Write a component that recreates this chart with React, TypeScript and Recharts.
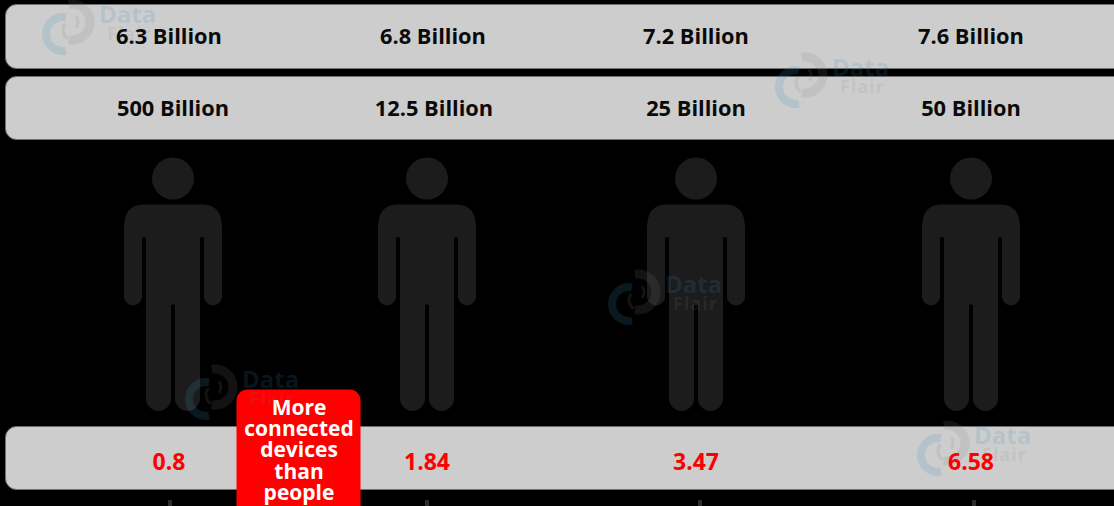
import React from 'react';
import { ComposedChart, ReferenceArea, Scatter, XAxis, YAxis } from 'recharts';

const WIDTH = 1114;
const HEIGHT = 506;

// values per column
const peopleBillions = [6.3, 6.8, 7.2, 7.6];
const deviceBillions = [500, 12.5, 25, 50];
const devicesPerPerson = [0.8, 1.84, 3.47, 6.58];
const calloutLines = ['More', 'connected', 'devices', 'than', 'people'];

// layout, in plot units (1 unit = 1px)
const peopleX = [169, 433, 696, 971];
const deviceX = [173, 434, 696, 971];
const ratioX = [169, 427, 696, 971];
const figureX = [173, 427, 696, 971];
const tickX = [170, 427, 700, 974];
const marksBehind = [
  { x: 43, y: 0 },
  { x: 776, y: 53 },
  { x: 609, y: 270 },
  { x: 918, y: 421 },
];
const marksOnTop = [{ x: 186, y: 365 }];

const FONT = '"Open Sans", sans-serif';
const BAND = '#cdcdcd';
const RED = '#fe0000';

const row = (values: number[], xs: number[], y: number, suffix = '') =>
  values.map((v, i) => ({ x: xs[i], y, label: `${v}${suffix}` }));

const peopleRow = row(peopleBillions, peopleX, 36, ' Billion');
const deviceRow = row(deviceBillions, deviceX, 108, ' Billion');
const ratioRow = row(devicesPerPerson, ratioX, 462);
const figures = figureX.map((x) => ({ x, y: 178.5 }));
const calloutAnchor = [{ x: 299, y: 407.5 }];

const RowLabel = (color: string, size: number) => (props: any) => (
  <text
    x={props.cx}
    y={props.cy}
    dy="0.36em"
    textAnchor="middle"
    fontFamily={FONT}
    fontWeight={700}
    fontSize={size}
    fill={color}
  >
    {props.payload.label}
  </text>
);

// standing figure, (cx, cy) is the centre of the head
const Figure = ({ cx, cy }: any) => {
  const body = [
    `M${cx - 30} ${cy + 26}`,
    `H${cx + 30}`,
    `Q${cx + 49} ${cy + 26} ${cx + 49} ${cy + 50}`,
    `V${cy + 118}`,
    `A9 9 0 0 1 ${cx + 31} ${cy + 118}`,
    `V${cy + 59}`,
    `H${cx + 27}`,
    `V${cy + 220}`,
    `A12 12 0 0 1 ${cx + 2} ${cy + 220}`,
    `V${cy + 126}`,
    `H${cx - 2}`,
    `V${cy + 220}`,
    `A12 12 0 0 1 ${cx - 27} ${cy + 220}`,
    `V${cy + 59}`,
    `H${cx - 31}`,
    `V${cy + 118}`,
    `A9 9 0 0 1 ${cx - 49} ${cy + 118}`,
    `V${cy + 50}`,
    `Q${cx - 49} ${cy + 26} ${cx - 30} ${cy + 26}`,
    'Z',
  ].join(' ');
  return (
    <g fill="#1c1c1c">
      <circle cx={cx} cy={cy} r={21} />
      <path d={body} />
    </g>
  );
};

const Callout = ({ cx, cy }: any) => (
  <text textAnchor="middle" fontFamily={FONT} fontWeight={700} fontSize={21} fill="#ffffff">
    {calloutLines.map((line, i) => (
      <tspan key={line} x={cx} y={cy + i * 21.2} dy="0.36em">
        {line}
      </tspan>
    ))}
  </text>
);

const arc = (cx: number, cy: number, r: number, from: number, to: number) => {
  const rad = Math.PI / 180;
  const sweep = to > from ? 1 : 0;
  const large = Math.abs(to - from) > 180 ? 1 : 0;
  return `M${cx + r * Math.cos(from * rad)} ${cy + r * Math.sin(from * rad)} A${r} ${r} 0 ${large} ${sweep} ${cx + r * Math.cos(to * rad)} ${cy + r * Math.sin(to * rad)}`;
};

// faint logo stamped across the graphic
const Stamp = ({ cx, cy }: any) => {
  const blue = 'rgba(60,140,190,0.17)';
  const grey = 'rgba(125,125,125,0.15)';
  return (
    <g fill="none">
      <path d={arc(cx + 20, cy + 34, 17, -80, -280)} stroke={blue} strokeWidth={8} />
      <path d={arc(cx + 29, cy + 22, 18, -100, 100)} stroke={grey} strokeWidth={9} />
      <path d={arc(cx + 30, cy + 30, 10, 120, 220)} stroke={grey} strokeWidth={3} />
      <path d={arc(cx + 26, cy + 22, 9, -40, 40)} stroke={grey} strokeWidth={3} />
      <text x={cx + 56} y={cy + 23} fontFamily={FONT} fontWeight={700} fontSize={24} fill={blue}>
        Data
      </text>
      <text x={cx + 64} y={cy + 40} fontFamily={FONT} fontWeight={700} fontSize={18} letterSpacing={1} fill={grey}>
        Flair
      </text>
    </g>
  );
};

const bandProps = {
  x1: 5.5,
  x2: 1130,
  fill: BAND,
  fillOpacity: 1,
  stroke: '#6f6f6f',
  strokeWidth: 1,
  radius: 11,
  ifOverflow: 'visible' as const,
};

export default function App() {
  return (
    <div style={{ position: 'absolute', left: 0, top: 0, width: WIDTH, height: HEIGHT, background: '#000', overflow: 'hidden' }}>
      <ComposedChart width={WIDTH} height={HEIGHT} margin={{ top: 0, right: 0, bottom: 0, left: 0 }}>
        <XAxis
          type="number"
          dataKey="x"
          domain={[0, WIDTH]}
          ticks={tickX}
          height={6}
          axisLine={false}
          tickSize={6}
          tickLine={{ stroke: '#2e2e2e', strokeWidth: 4 }}
          tickFormatter={() => ''}
        />
        <YAxis type="number" dataKey="y" domain={[0, 500]} reversed hide />

        <ReferenceArea {...bandProps} y1={4.5} y2={68.5} />
        <ReferenceArea {...bandProps} y1={76.5} y2={139.5} />
        <ReferenceArea {...bandProps} y1={426.5} y2={489.5} />

        <Scatter data={figures} shape={Figure} isAnimationActive={false} />
        <Scatter data={marksBehind} shape={Stamp} isAnimationActive={false} />
        <Scatter data={peopleRow} shape={RowLabel('#0a0a0a', 21.8)} isAnimationActive={false} />
        <Scatter data={deviceRow} shape={RowLabel('#0a0a0a', 21.8)} isAnimationActive={false} />
        <Scatter data={ratioRow} shape={RowLabel(RED, 23)} isAnimationActive={false} />

        <ReferenceArea
          x1={236.5}
          x2={360.5}
          y1={389.5}
          y2={530}
          fill={RED}
          fillOpacity={1}
          stroke="none"
          radius={11}
          ifOverflow="visible"
        />
        <Scatter data={calloutAnchor} shape={Callout} isAnimationActive={false} />
        <Scatter data={marksOnTop} shape={Stamp} isAnimationActive={false} />
      </ComposedChart>
    </div>
  );
}
